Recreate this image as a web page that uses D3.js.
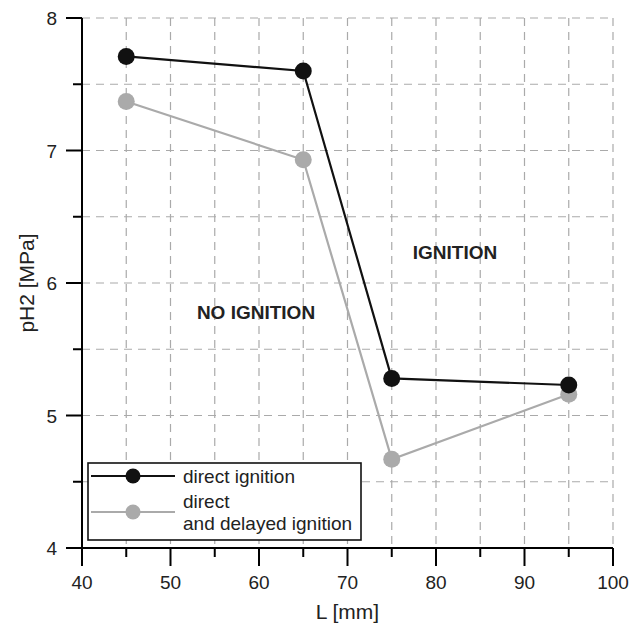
<!DOCTYPE html>
<html><head><meta charset="utf-8">
<script src="https://cdn.jsdelivr.net/npm/d3@7"></script>
<style>body{margin:0;background:#fff}svg{display:block}</style>
</head><body><svg id="c" width="640" height="626" font-family="Liberation Sans, Arial, sans-serif"></svg>
<script>
const lengths = [45, 65, 75, 95];
const directIgnition = [7.71, 7.60, 5.28, 5.23];
const directDelayed = [7.37, 6.93, 4.67, 5.16];
const xTicks = [40, 50, 60, 70, 80, 90, 100];
const yTicks = [4, 5, 6, 7, 8];
const xMinor = [45, 55, 65, 75, 85, 95];
const yMinor = [4.5, 5.5, 6.5, 7.5];
const seriesNames = ["direct ignition", ["direct", "and delayed ignition"]];

const svg = d3.select("#c");
const x = d3.scaleLinear().domain([40, 100]).range([82, 613]);
const y = d3.scaleLinear().domain([4, 8]).range([548, 18]);
const INK = "#222";

// grid
const gx = d3.range(45, 100.1, 5), gy = d3.range(4.5, 8.01, 0.5);
svg.append("g").selectAll("line").data(gx).join("line")
  .attr("x1", d => x(d)).attr("x2", d => x(d)).attr("y1", y(8)).attr("y2", y(4))
  .attr("stroke", "#aaa").attr("stroke-width", 1.2).attr("stroke-dasharray", "8,6");
svg.append("g").selectAll("line").data(gy).join("line")
  .attr("y1", d => y(d)).attr("y2", d => y(d)).attr("x1", x(40)).attr("x2", x(100))
  .attr("stroke", "#aaa").attr("stroke-width", 1.2).attr("stroke-dasharray", "8,6");

// axis lines
svg.append("path").attr("d", `M${x(40)},${y(8)}V${y(4)}H${x(100)}`)
  .attr("fill", "none").attr("stroke", "#000").attr("stroke-width", 2);
// ticks
const tk = svg.append("g").attr("stroke", "#000").attr("stroke-width", 2);
tk.selectAll(".xt").data(xTicks).join("line").attr("class", "xt")
  .attr("x1", d => x(d)).attr("x2", d => x(d)).attr("y1", y(4)).attr("y2", y(4) + 18);
tk.selectAll(".yt").data(yTicks).join("line").attr("class", "yt")
  .attr("y1", d => y(d)).attr("y2", d => y(d)).attr("x1", x(40)).attr("x2", x(40) - 16);
tk.selectAll(".xm").data(xMinor).join("line").attr("class", "xm")
  .attr("x1", d => x(d)).attr("x2", d => x(d)).attr("y1", y(4)).attr("y2", y(4) + 9);
tk.selectAll(".ym").data(yMinor).join("line").attr("class", "ym")
  .attr("y1", d => y(d)).attr("y2", d => y(d)).attr("x1", x(40)).attr("x2", x(40) - 9);
// tick labels
svg.append("g").selectAll("text").data(xTicks).join("text")
  .attr("x", d => x(d)).attr("y", 589).attr("text-anchor", "middle")
  .attr("font-size", 19).attr("fill", INK).text(d => d);
svg.append("g").selectAll("text").data(yTicks).join("text")
  .attr("x", 57).attr("y", d => y(d) + 7).attr("text-anchor", "end")
  .attr("font-size", 19).attr("fill", INK).text(d => d);

// series
const series = [
  {vals: directDelayed, color: "#aaaaaa"},
  {vals: directIgnition, color: "#111111"}
];
const line = d3.line().x((d, i) => x(lengths[i])).y(d => y(d));
series.forEach(s => {
  svg.append("path").datum(s.vals).attr("d", line).attr("fill", "none")
    .attr("stroke", s.color).attr("stroke-width", 2.2);
});
series.forEach(s => {
  svg.append("g").selectAll("circle").data(s.vals).join("circle")
    .attr("cx", (d, i) => x(lengths[i])).attr("cy", d => y(d)).attr("r", 8.5).attr("fill", s.color);
});

// region labels
svg.append("text").attr("x", 455).attr("y", 259).attr("text-anchor", "middle")
  .attr("font-size", 19).attr("font-weight", "bold").attr("fill", INK).text("IGNITION");
svg.append("text").attr("x", 256).attr("y", 319).attr("text-anchor", "middle")
  .attr("font-size", 19).attr("font-weight", "bold").attr("fill", INK).text("NO IGNITION");

// legend
const lg = svg.append("g");
lg.append("rect").attr("x", 88).attr("y", 463).attr("width", 273).attr("height", 77)
  .attr("fill", "#fff").attr("stroke", "#111").attr("stroke-width", 1.6);
const rows = [{yy: 476, color: "#111"}, {yy: 512, color: "#aaa"}];
rows.forEach(r => {
  lg.append("line").attr("x1", 91).attr("x2", 175).attr("y1", r.yy).attr("y2", r.yy)
    .attr("stroke", r.color).attr("stroke-width", 2.2);
  lg.append("circle").attr("cx", 133).attr("cy", r.yy).attr("r", 7.5).attr("fill", r.color);
});
lg.append("text").attr("x", 183).attr("y", 483).attr("font-size", 19).attr("fill", INK).text(seriesNames[0]);
lg.append("text").attr("x", 183).attr("y", 508).attr("font-size", 19).attr("fill", INK).text(seriesNames[1][0]);
lg.append("text").attr("x", 183).attr("y", 530).attr("font-size", 19).attr("fill", INK).text(seriesNames[1][1]);

// axis titles
svg.append("text").attr("x", x(70)).attr("y", 619).attr("text-anchor", "middle")
  .attr("font-size", 21).attr("fill", INK).text("L [mm]");
svg.append("text").attr("transform", `translate(34,${y(6)}) rotate(-90)`).attr("text-anchor", "middle")
  .attr("font-size", 21).attr("fill", INK).text("pH2 [MPa]");
</script></body></html>
